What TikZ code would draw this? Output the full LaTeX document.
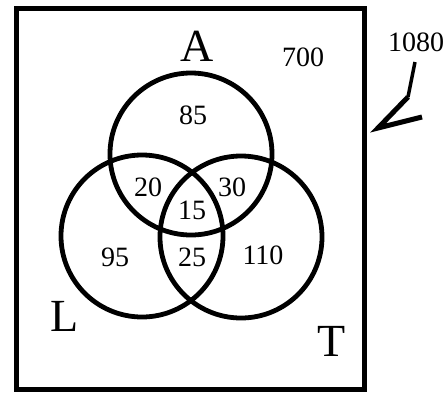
\documentclass[tikz,border=0pt]{standalone}
\usepackage{fontspec}
\setmainfont{Liberation Serif}
\begin{document}
\begin{tikzpicture}[x=1pt,y=-1pt,
  setcircle/.style={circle,draw,line width=4.8pt,inner sep=0pt,minimum size=162pt},
  num/.style={font=\fontsize{28}{32}\selectfont,inner sep=0pt},
  letter/.style={font=\fontsize{46}{50}\selectfont,inner sep=0pt}]
\useasboundingbox (0,0) rectangle (445,392);
\draw[line width=5pt] (16,8) rectangle (364,389);
\node[setcircle] (A) at (191,154) {};
\node[setcircle] (L) at (142,236) {};
\node[setcircle] (T) at (241,237) {};
\node[letter] (la) at (197,46) {A};
\node[letter] (ll) at (65,316) {L};
\node[letter] (lt) at (332,341) {T};
\node[num] (n700) at (303,57) {700};
\node[num] (n85) at (193,115) {85};
\node[num] (n20) at (148,187) {20};
\node[num] (n30) at (232,187) {30};
\node[num] (n15) at (192,210) {15};
\node[num] (n95) at (115,257) {95};
\node[num] (n25) at (192,257) {25};
\node[num] (n110) at (263,255) {110};
\node[num] (n1080) at (416,42) {1080};
\coordinate (s) at (415,62);
\coordinate (b) at (408,97);
\coordinate (tip) at (378,128);
\coordinate (barb) at (422,117);
\draw[line width=3.5pt] (s) -- (b);
\draw[line width=5pt,line join=miter] (b) -- (tip) -- (barb);
\end{tikzpicture}
\end{document}
